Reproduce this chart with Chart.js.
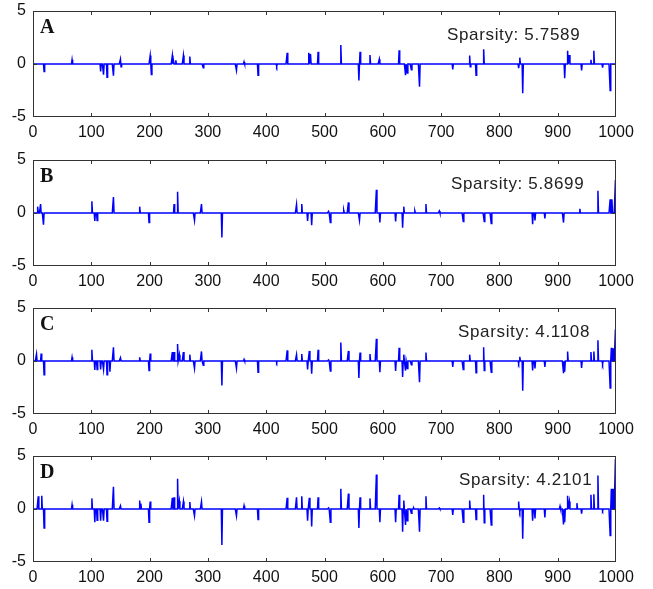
<!DOCTYPE html>
<html>
<head>
<meta charset="utf-8">
<script src="https://cdn.jsdelivr.net/npm/chart.js@4"></script>
<style>
  html, body { margin: 0; padding: 0; background: #fff; overflow: hidden; }
  #wrap { position: relative; width: 653px; height: 589px; }
  canvas { position: absolute; left: 0; }
  .letter { position: absolute; font: bold 20px "Liberation Serif", serif; color: #111; }
  .spars { position: absolute; font: 17px "Liberation Sans", Arial, sans-serif; color: #222; letter-spacing: 0.65px; white-space: pre; }
</style>
</head>
<body>
<div id="wrap"></div>
<script>
// spike positions (sample index) and amplitudes
const aIdx = [19, 67, 116, 121, 127, 138, 150, 151, 201, 203, 239, 241, 245, 258, 269, 292, 349, 362, 386, 418,
  436, 473, 476, 489, 528, 559, 561, 578, 594, 628, 639, 642, 649, 663, 720, 749, 750, 760, 773, 833,
  835, 840, 912, 917, 920, 941, 957, 962, 977, 990];
const aVal = [-0.7, 0.4, -0.7, -1.0, -1.25, -1.1, 0.45, -0.25, 0.8, -1.0, 0.8, 0.3, 0.35, 0.8, 0.7, -0.35, -0.6, 0.2, -1.05, -0.2,
  1.05, 1.05, 0.95, 1.15, 1.8, -1.55, 1.15, 0.85, 0.45, 1.3, -1.05, -0.85, -0.55, -2.15, -0.5, 0.8, -0.25, -1.05, 1.4, -0.4,
  0.6, -2.75, -1.35, 1.25, 0.85, -0.6, 0.4, 1.25, -0.35, -2.5];

const bIdx = [8, 13, 18, 101, 106, 110, 138, 183, 199, 242, 248, 277, 289, 324, 452, 461, 471, 478, 507, 510,
  533, 541, 560, 589, 595, 622, 634, 636, 655, 674, 697, 738, 774, 786, 857, 861, 878, 910, 938, 969,
  990, 993, 999];
const bVal = [0.6, 0.85, -1.1, 1.1, -0.75, -0.7, 1.5, 0.6, -0.9, 0.85, 2.0, -0.7, 0.85, -2.3, 0.8, 0.85, -0.75, -1.15, 0.15, -0.9,
  0.25, 1.0, -0.7, 2.2, -0.9, -0.8, -1.4, 0.6, 0.2, 0.85, 0.2, -0.8, -0.8, -1.0, -1.05, -0.7, -0.5, -0.9, 0.4, 2.1,
  1.3, 1.3, 3.1];

const cIdx = [6, 14, 19, 67, 101, 106, 110, 116, 121, 127, 132, 138, 150, 183, 199, 201, 239, 242, 248, 251,
  258, 269, 277, 289, 292, 324, 349, 362, 386, 418, 436, 452, 461, 471, 474, 478, 489, 507, 510, 528,
  541, 559, 561, 578, 589, 595, 622, 628, 634, 636, 639, 642, 649, 663, 674, 720, 738, 749, 760, 773,
  774, 786, 833, 835, 840, 857, 861, 878, 910, 912, 917, 941, 957, 962, 969, 977, 990, 992, 995, 999];
const cVal = [0.65, 0.7, -1.3, 0.35, 1.05, -0.85, -0.8, -0.8, -0.8, -1.3, -1.0, 1.3, 0.3, 0.35, -0.9, 0.7, 0.85, 0.85, 1.6, 0.6,
  0.85, 0.6, -0.7, 0.9, -0.4, -2.3, -0.7, 0.15, -1.05, -0.15, 1.0, 0.6, 0.65, -0.8, 0.95, -1.2, 1.05, 0.1, -0.95, 1.75,
  0.95, -1.6, 0.8, 0.65, 2.1, -1.05, -0.95, 1.25, -1.5, 0.6, -0.9, -0.7, -0.35, -2.0, 0.8, -0.55, -0.8, 0.6, -1.1, 1.3,
  -0.9, -1.05, -0.2, 0.4, -2.8, -0.9, -0.7, -0.55, -1.15, -1.0, 0.9, -0.65, 0.85, 0.9, 1.95, -0.25, -2.55, 1.25, 1.2, 3.0];

const dIdx = [9, 15, 19, 67, 101, 106, 110, 116, 121, 127, 138, 150, 183, 185, 199, 201, 239, 242, 248, 251,
  258, 269, 277, 289, 324, 349, 362, 386, 436, 452, 461, 471, 474, 478, 489, 507, 510, 528, 541, 559,
  561, 578, 589, 595, 622, 628, 634, 636, 639, 642, 649, 653, 663, 674, 697, 720, 738, 749, 760, 773,
  774, 786, 833, 835, 840, 857, 861, 878, 904, 910, 912, 917, 920, 933, 941, 957, 962, 969, 977, 990,
  992, 995, 999];
const dVal = [1.2, 1.25, -1.8, 0.4, 1.0, -1.25, -1.05, -1.1, -1.1, -1.15, 2.1, 0.3, 0.8, 0.5, -1.25, 0.7, 1.05, 1.1, 2.85, 0.75,
  0.7, 0.65, -0.65, 0.7, -3.4, -0.65, 0.3, -1.0, 1.05, 1.1, 1.2, -1.1, 1.05, -1.65, 1.1, 0.1, -1.25, 1.9, 1.45, -1.8,
  1.1, 1.0, 3.25, -1.25, -1.25, 1.35, -2.15, 0.8, -1.5, -1.1, -0.4, 0.1, -2.15, 1.2, 0.1, -0.55, -1.25, 0.8, -1.0, 1.35,
  -1.3, -1.5, 0.7, -0.25, -2.8, -1.1, -0.9, -0.8, 0.25, -1.45, -1.25, 1.25, 0.7, 0.55, -0.45, 1.35, 1.4, 3.15, -0.15, -2.5,
  1.9, 1.9, 4.7];

const panelLetters = ['A', 'B', 'C', 'D'];
const sparsity = ['5.7589', '5.8699', '4.1108', '4.2101'];
const xMin = 0, xMax = 1000, xStep = 100;
const yMin = -5, yMax = 5, yStep = 5;
const signalLength = 1000;

const panels = [
  { idx: aIdx, val: aVal, top: 0, textX: 447 },
  { idx: bIdx, val: bVal, top: 149, textX: 451 },
  { idx: cIdx, val: cVal, top: 297, textX: 458 },
  { idx: dIdx, val: dVal, top: 445, textX: 459 },
];

// every other sample of the signal is zero
function denseSignal(idx, val) {
  const y = new Array(signalLength).fill(0);
  idx.forEach((k, i) => { y[k - 1] = val[i]; });
  return y.map((v, i) => ({ x: i + 1, y: v }));
}

// box round the plot area plus MATLAB style inward ticks
const frameTicks = {
  id: 'frameTicks',
  afterDraw(chart) {
    const { ctx, chartArea: a, scales } = chart;
    ctx.save();
    ctx.strokeStyle = '#333';
    ctx.lineWidth = 1;
    ctx.beginPath();
    scales.x.ticks.forEach(t => {
      if (t.value <= xMin || t.value >= xMax) return;
      const px = Math.round(scales.x.getPixelForValue(t.value)) + 0.5;
      ctx.moveTo(px, a.top); ctx.lineTo(px, a.top + 4);
      ctx.moveTo(px, a.bottom); ctx.lineTo(px, a.bottom - 4);
    });
    const py = Math.round(scales.y.getPixelForValue(0)) + 0.5;
    ctx.moveTo(a.left, py); ctx.lineTo(a.left + 4, py);
    ctx.moveTo(a.right, py); ctx.lineTo(a.right - 4, py);
    ctx.stroke();
    ctx.strokeRect(Math.round(a.left) + 0.5, Math.round(a.top) + 0.5,
      Math.round(a.right - a.left) - 1, Math.round(a.bottom - a.top) - 1);
    ctx.restore();
  }
};

const wrap = document.getElementById('wrap');
const tickFont = { family: '"Liberation Sans", Arial, sans-serif', size: 16 };

panels.forEach((p, i) => {
  const canvas = document.createElement('canvas');
  canvas.width = 653;
  canvas.height = 148;
  canvas.style.top = p.top + 'px';
  wrap.appendChild(canvas);

  const letter = document.createElement('div');
  letter.className = 'letter';
  letter.textContent = panelLetters[i];
  letter.style.left = '40px';
  letter.style.top = (p.top + 15) + 'px';
  wrap.appendChild(letter);

  const label = document.createElement('div');
  label.className = 'spars';
  label.textContent = 'Sparsity: ' + sparsity[i];
  label.style.left = p.textX + 'px';
  label.style.top = (p.top + 25) + 'px';
  wrap.appendChild(label);

  new Chart(canvas.getContext('2d'), {
    type: 'line',
    data: {
      datasets: [{
        data: denseSignal(p.idx, p.val),
        borderColor: '#0000ff',
        borderWidth: 1.5,
        pointRadius: 0,
        tension: 0,
        fill: false,
      }],
    },
    options: {
      responsive: false,
      animation: false,
      layout: { padding: { top: 11, right: 37, left: 0, bottom: 0 } },
      plugins: { legend: { display: false }, tooltip: { enabled: false } },
      scales: {
        x: {
          type: 'linear',
          min: xMin,
          max: xMax,
          grid: { display: false, drawTicks: false },
          border: { display: false },
          ticks: {
            stepSize: xStep, font: tickFont, color: '#111', padding: 6, maxRotation: 0,
            callback: v => String(v),
          },
          afterFit: s => { s.height = 31; s.paddingLeft = 0; s.paddingRight = 0; },
        },
        y: {
          min: yMin,
          max: yMax,
          grid: { display: false, drawTicks: false },
          border: { display: false },
          ticks: { stepSize: yStep, font: tickFont, color: '#111', padding: 7 },
          afterFit: s => { s.width = 33; s.paddingTop = 0; s.paddingBottom = 0; },
        },
      },
    },
    plugins: [frameTicks],
  });
});
</script>
</body>
</html>
